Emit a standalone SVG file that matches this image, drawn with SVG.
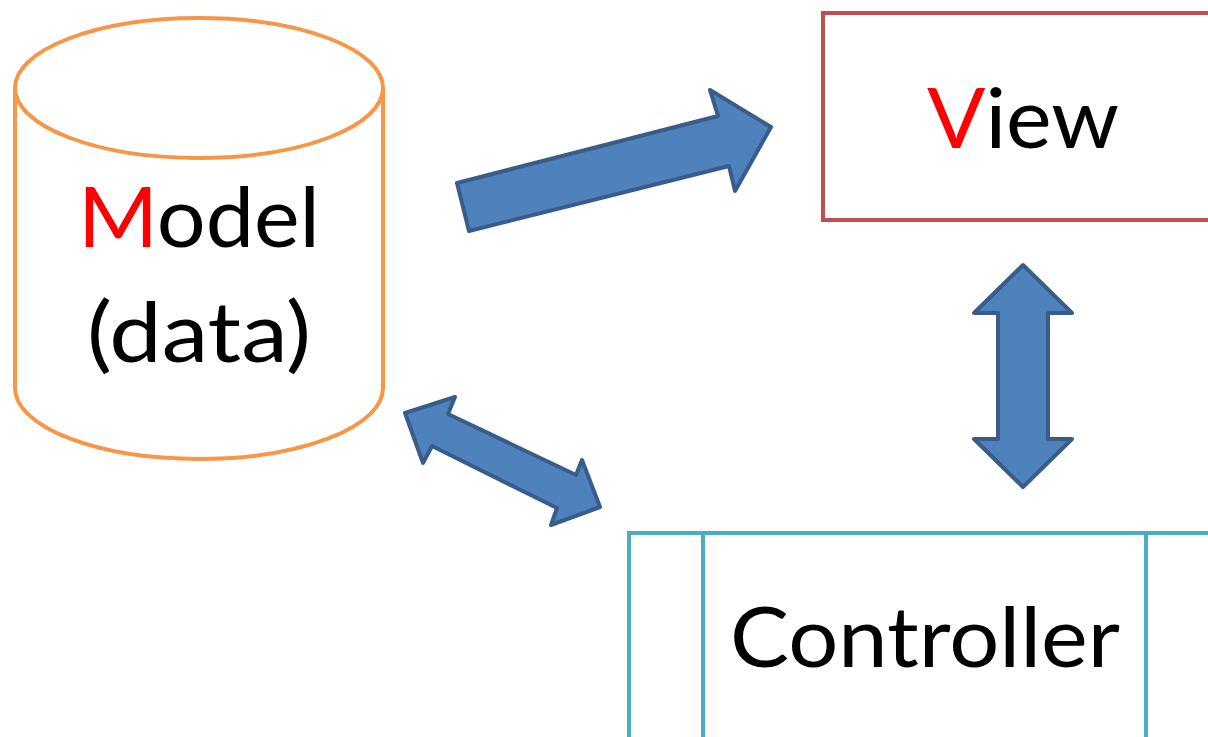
<svg xmlns="http://www.w3.org/2000/svg" width="1208" height="737" viewBox="0 0 1208 737">
  <style>
    .label { font-family: Lato, "Open Sans", "Liberation Sans", sans-serif; font-size: 84px; fill: #000000; text-anchor: middle; }
    .initial { fill: #FF0000; }
    .arrow { fill: #4F81BD; stroke: #385D8A; stroke-width: 4; stroke-linejoin: round; }
  </style>
  <rect x="0" y="0" width="1208" height="737" fill="#FFFFFF"/>

  <!-- Model: data store cylinder -->
  <g id="model">
    <path d="M 15 88 L 15 388 A 184 71 0 0 0 383 388 L 383 88" fill="#FFFFFF" stroke="#F79646" stroke-width="4"/>
    <ellipse cx="199" cy="88" rx="184" ry="70" fill="#FFFFFF" stroke="#F79646" stroke-width="4"/>
    <text class="label" x="199" y="247" textLength="242" lengthAdjust="spacingAndGlyphs"><tspan class="initial">M</tspan>odel</text>
    <text class="label" x="199" y="362" textLength="224" lengthAdjust="spacingAndGlyphs">(data)</text>
  </g>

  <!-- View box -->
  <g id="view">
    <rect x="823" y="13" width="420" height="207" fill="#FFFFFF" stroke="#C0504D" stroke-width="4"/>
    <text class="label" x="1023" y="148" textLength="192" lengthAdjust="spacingAndGlyphs"><tspan class="initial">V</tspan>iew</text>
  </g>

  <!-- Controller: predefined-process box -->
  <g id="controller">
    <rect x="629" y="533" width="640" height="240" fill="#FFFFFF" stroke="#4BACC6" stroke-width="4"/>
    <line x1="703" y1="533" x2="703" y2="760" stroke="#4BACC6" stroke-width="4"/>
    <line x1="1146" y1="533" x2="1146" y2="760" stroke="#4BACC6" stroke-width="4"/>
    <text class="label" x="925" y="667" textLength="390" lengthAdjust="spacingAndGlyphs">Controller</text>
  </g>

  <!-- Block arrows between the three parts -->
  <g id="connectors">
    <polygon class="arrow" points="469,231 457,183 718,116 710,90 771,127 735,191 729,166"/>
    <polygon class="arrow" points="405,413 455,397 448,414 576,475 582,460 600,507 551,525 557,508 432,446 423,463"/>
    <polygon class="arrow" points="1023,265 1072,313 1048,313 1048,439 1072,439 1023,487 974,439 998,439 998,313 974,313"/>
  </g>
</svg>
